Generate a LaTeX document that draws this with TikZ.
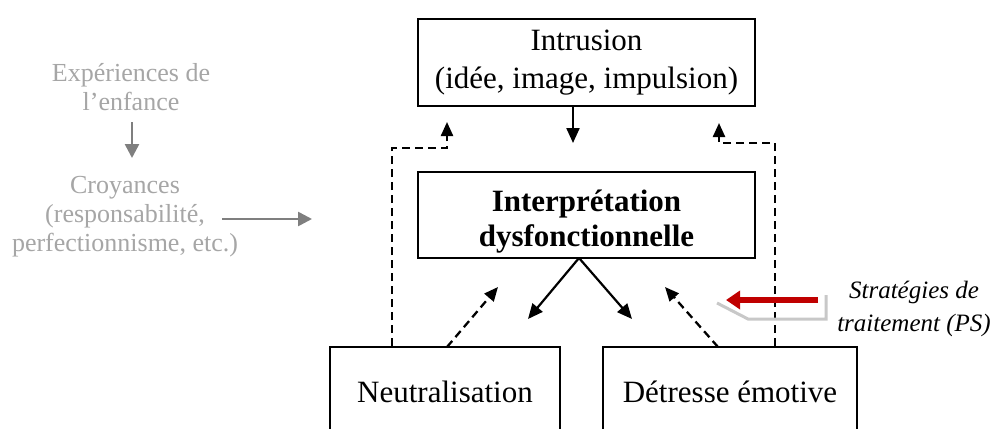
\documentclass[tikz,border=0pt]{standalone}
\usepackage{fontspec}
\setmainfont{Liberation Serif}
\usetikzlibrary{arrows.meta}
\definecolor{lightgraytxt}{HTML}{A6A6A6}
\definecolor{midgray}{HTML}{7F7F7F}
\definecolor{darkred}{HTML}{C00000}
\definecolor{shadowgray}{HTML}{C8C8C8}
\tikzset{
  box/.style={draw=black, line width=2pt, minimum width=#1, inner sep=0pt, align=center, font=\fontsize{31}{38}\selectfont},
  graytxt/.style={text=lightgraytxt, align=center, inner sep=0pt, font=\fontsize{26}{29}\selectfont},
  solidarrow/.style={draw=black, line width=2.2pt, -{Triangle[length=15pt,width=13pt]}},
  dasharrow/.style={draw=black, line width=2.3pt, dash pattern=on 8pt off 5pt, -{Triangle[length=14pt,width=12pt]}},
  grayarrow/.style={draw=midgray, line width=2.6pt, -{Triangle[length=14pt,width=14pt]}},
}
\begin{document}
\begin{tikzpicture}[x=1pt,y=-1pt]
\clip (0,0) rectangle (995,428);
\fill[white] (0,0) rectangle (995,428);

% main boxes
\node[box=337pt, minimum height=87pt] (intr) at (586.5,62.5) {Intrusion\\(idée, image, impulsion)};
\node[box=337pt, minimum height=86pt] (interp) at (586.5,215) {};
\node[inner sep=0pt, align=center, font=\fontsize{31}{35}\selectfont\bfseries] (interpT) at (586.5,222) {Interprétation\\dysfonctionnelle};
\node[box=230pt, minimum height=90pt] (neut) at (445,392) {Neutralisation};
\node[box=254pt, minimum height=90pt] (detr) at (730,392) {Détresse émotive};

% left gray texts
\node[graytxt] (exp) at (131,87) {Expériences de\\l’enfance};
\node[graytxt] (croy) at (125,217) {Croyances\\(responsabilité,\\perfectionnisme, etc.)};
\coordinate (e1) at (132,122);
\coordinate (e2) at (132,158);
\draw[grayarrow] (e1) -- (e2);
\coordinate (c1) at (222,219);
\coordinate (c2) at (312,219);
\draw[grayarrow] (c1) -- (c2);

% intrusion -> interpretation
\coordinate (a1) at (573,143);
\draw[solidarrow] (intr.south -| a1) -- (a1);

% interpretation -> neutralisation / detresse
\coordinate (ib) at (579,258);
\coordinate (s1) at (528,319);
\coordinate (s2) at (632,319);
\draw[solidarrow] (ib) -- (s1);
\draw[solidarrow] (ib) -- (s2);

% dashed back arrows to interpretation
\coordinate (nt) at (447,347);
\coordinate (d1) at (498,287);
\draw[dasharrow] (nt) -- (d1);
\coordinate (dt) at (718,347);
\coordinate (d2) at (665,287);
\draw[dasharrow] (dt) -- (d2);

% dashed loops to intrusion
\coordinate (l1) at (392,148);
\coordinate (l2) at (447,122);
\draw[dasharrow] (neut.north -| l1) -- (l1) -- (l1 -| l2) -- (l2);
\coordinate (r1) at (775,143);
\coordinate (r2) at (719,123);
\draw[dasharrow] (detr.north -| r1) -- (r1) -- (r1 -| r2) -- (r2);

% strategies arrow with shadow
\coordinate (sh1) at (717,303);
\coordinate (sh2) at (748,319);
\coordinate (sh3) at (826,319);
\coordinate (sh4) at (826,295);
\draw[shadowgray, line width=3pt] (sh1) -- (sh2) -- (sh3) -- (sh4);
\coordinate (ra) at (818,300);
\coordinate (rb) at (726,300);
\draw[darkred, line width=6pt, -{Triangle[length=14pt,width=18pt]}] (ra) -- (rb);
\node[align=center, inner sep=0pt, font=\fontsize{25}{33}\selectfont\itshape] (strat) at (914,309) {Stratégies de\\traitement (PS)};
\end{tikzpicture}
\end{document}
